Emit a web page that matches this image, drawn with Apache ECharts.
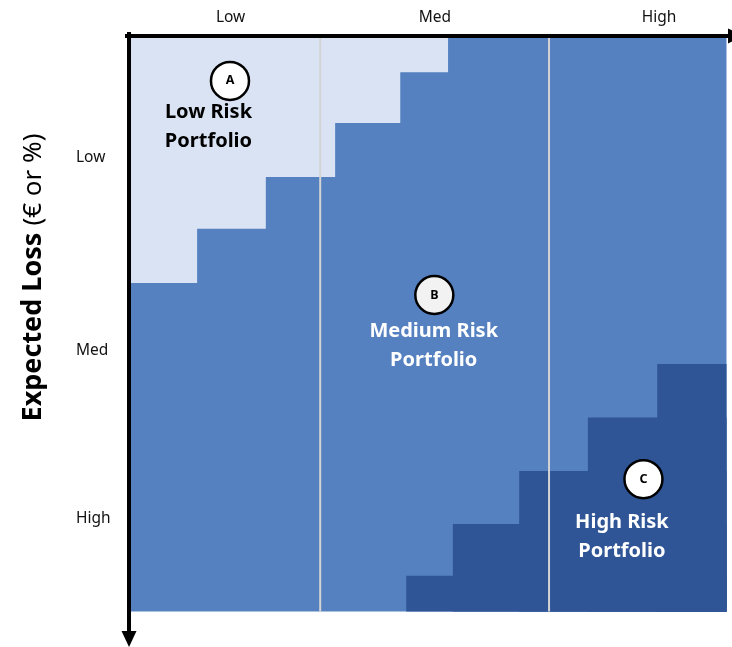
<!DOCTYPE html>
<html><head><meta charset="utf-8">
<script src="https://cdn.jsdelivr.net/npm/echarts@6/dist/echarts.min.js"></script>
<style>html,body{margin:0;padding:0;background:#fff}#c{width:732px;height:647px}</style>
</head><body><div id="c"></div>
<script>
// ---- data (axis units: 0..100 across the plot, y measured downward) ----
const xCategories = ['Low', 'Med', 'High'];
const xCategoryPos = [17.0, 51.2, 88.7];
const yCategories = ['Low', 'Med', 'High'];
const yCategoryPos = [21.2, 54.6, 83.9];
const lightStepX = [0, 11.4, 22.9, 34.5, 45.4, 53.4];
const lightStepY = [42.9, 33.5, 24.5, 15.1, 6.3];
const darkStepX = [46.4, 54.2, 65.3, 76.8, 88.4, 100];
const darkStepY = [93.8, 84.8, 75.6, 66.3, 57.0];
const dividerX = [32.0, 70.3];
const markerLetters = ['A', 'B', 'C'];
const markerX = [16.9, 51.1, 86.1];
const markerY = [7.8, 45.0, 77.0];
const regionNames = ['Low Risk\nPortfolio', 'Medium Risk\nPortfolio', 'High Risk\nPortfolio'];
const regionX = [13.3, 51.0, 82.5];
const regionY = [15.7, 53.9, 87.1];

// ---- styling ----
const FONT = 'Noto Sans';
const regionFill = ['#DAE3F3', '#5581C0', '#2F5597'];
const regionTextColor = ['#000000', '#FFFFFF', '#FFFFFF'];
const markerFill = ['#FFFFFF', '#F2F2F2', '#FFFFFF'];

const rects = [[0, 100, 0, 100, 1]];
lightStepY.forEach((y, i) => rects.push([0, lightStepX[i + 1], 0, y, 0]));
darkStepY.forEach((y, i) => rects.push([darkStepX[i], 100, y, 100, 2]));

const chart = echarts.init(document.getElementById('c'));
const option = {
  backgroundColor: '#fff',
  animation: false,
  grid: { left: 127, top: 34, width: 609, height: 605, containLabel: false, outerBoundsMode: 'none' },
  xAxis: {
    type: 'value', position: 'top', min: -0.335, max: 101.59, z: 10,
    splitLine: { show: false }, axisTick: { show: false },
    axisLine: { show: true, symbol: ['none', 'triangle'], symbolSize: [15, 16],
      lineStyle: { color: '#000', width: 4, cap: 'square' } },
    axisLabel: { customValues: xCategoryPos, margin: 16, verticalAlign: 'middle',
      formatter: v => xCategories[xCategoryPos.indexOf(v)] || '',
      fontFamily: FONT, fontSize: 15.5, color: '#111' }
  },
  yAxis: {
    type: 'value', inverse: true, min: -0.3475, max: 104.78, z: 10,
    splitLine: { show: false }, axisTick: { show: false },
    axisLine: { show: true, symbol: ['triangle', 'none'], symbolSize: [15, 16],
      lineStyle: { color: '#000', width: 4, cap: 'square' } },
    axisLabel: { customValues: yCategoryPos, margin: 51, align: 'left',
      formatter: v => yCategories[yCategoryPos.indexOf(v)] || '',
      fontFamily: FONT, fontSize: 15.5, color: '#111' },
    name: '{b|Expected Loss }{r|(€ or %)}',
    nameLocation: 'middle', nameRotate: 90, nameGap: 80,
    nameTextStyle: { padding: [0, 0, 0, 118],
      rich: { b: { fontFamily: FONT, fontWeight: 'bold', fontSize: 27, color: '#000', verticalAlign: 'bottom' },
              r: { fontFamily: FONT, fontSize: 26, color: '#000', verticalAlign: 'bottom' } } }
  },
  series: [
    {
      type: 'custom', z: 1, silent: true, data: rects,
      encode: { x: [0, 1], y: [2, 3] },
      renderItem: (params, api) => {
        const p0 = api.coord([api.value(0), api.value(2)]);
        const p1 = api.coord([api.value(1), api.value(3)]);
        return { type: 'rect',
          shape: { x: Math.min(p0[0], p1[0]), y: Math.min(p0[1], p1[1]),
                   width: Math.abs(p1[0] - p0[0]), height: Math.abs(p1[1] - p0[1]) },
          style: { fill: regionFill[api.value(4)] } };
      }
    },
    ...dividerX.map(x => ({
      type: 'line', z: 2, silent: true, showSymbol: false, symbol: 'none',
      data: [[x, 0], [x, 100]],
      lineStyle: { color: '#D4D4D4', width: 2 }
    })),
    {
      type: 'scatter', z: 3, silent: true, symbol: 'circle', symbolSize: 38,
      data: markerLetters.map((l, i) => ({ value: [markerX[i], markerY[i], l],
        itemStyle: { color: markerFill[i] } })),
      itemStyle: { borderColor: '#000', borderWidth: 2.5, opacity: 1 },
      label: { show: true, position: 'inside', formatter: p => p.value[2],
        fontFamily: FONT, fontWeight: 'bold', fontSize: 12.5, color: '#000' }
    },
    {
      type: 'scatter', z: 4, silent: true, symbolSize: 1,
      itemStyle: { color: 'rgba(0,0,0,0)', opacity: 1 },
      data: regionNames.map((n, i) => ({ value: [regionX[i], regionY[i], n],
        label: { color: regionTextColor[i] } })),
      label: { show: true, position: 'inside', formatter: p => p.value[2],
        fontFamily: FONT, fontWeight: 'bold', fontSize: 20, lineHeight: 29, align: 'center',
        textBorderWidth: 0 }
    }
  ]
};
chart.setOption(option);
</script></body></html>
